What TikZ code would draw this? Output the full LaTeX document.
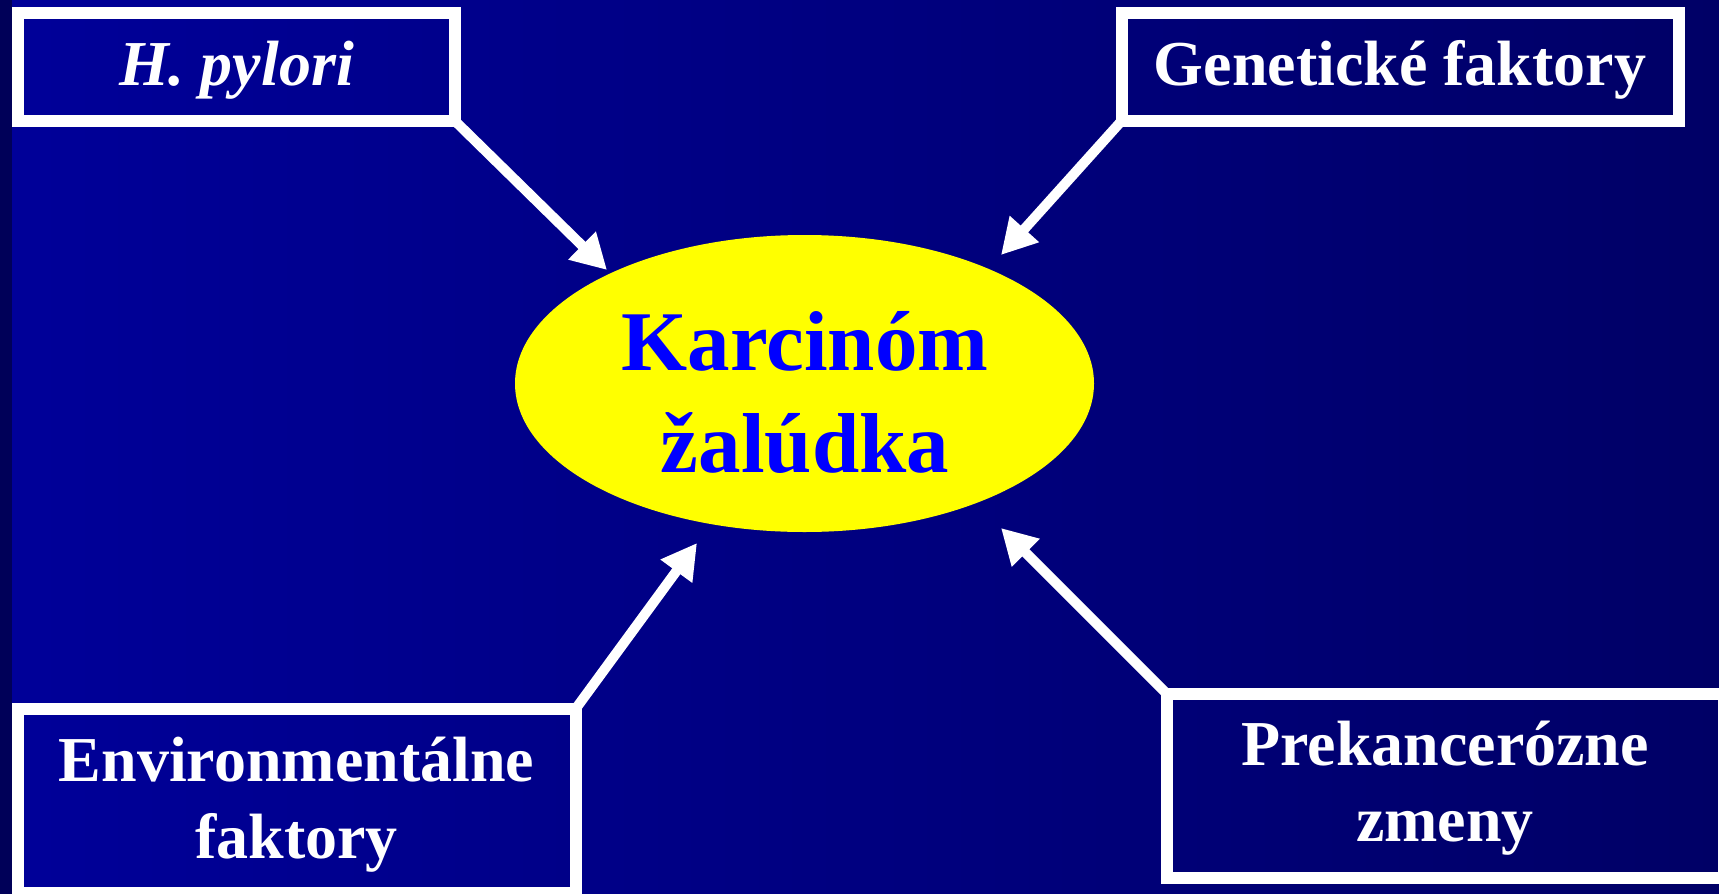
\documentclass[tikz,border=0pt]{standalone}
\usepackage{fontspec}
\setmainfont{Liberation Serif}
\usetikzlibrary{arrows.meta,shapes.geometric}
\definecolor{bgl}{RGB}{0,0,153}
\definecolor{bgr}{RGB}{0,0,102}
\definecolor{stripc}{RGB}{0,0,88}
\definecolor{ktext}{RGB}{0,0,255}
\definecolor{kfill}{RGB}{255,255,0}
\begin{document}
\begin{tikzpicture}[x=1pt,y=-1pt,
  box/.style={draw=white, line width=12pt, rectangle, outer sep=0pt, inner sep=0pt},
  lbl/.style={text=white, font=\fontsize{64}{77}\selectfont\bfseries, anchor=base, inner sep=0pt},
  ktxt/.style={text=ktext, font=\fontsize{85}{102}\selectfont\bfseries, anchor=base, inner sep=0pt},
  arr/.style={draw=white, line width=10pt, -{Triangle[length=35pt,width=37pt]}}]
\useasboundingbox (0,0) rectangle (1719,894);
\clip (0,0) rectangle (1719,894);
\shade[left color=bgl, right color=bgr] (0,0) rectangle (1719,894);
\fill[stripc] (0,0) rectangle (12,894);
% boxes
\node[box, minimum width=437pt, minimum height=108pt] (hp) at (236.5,67) {};
\node[box, minimum width=557pt, minimum height=108pt] (gen) at (1400,67) {};
\node[box, minimum width=557.5pt, minimum height=184pt] (env) at (296.75,801) {};
\node[box, minimum width=557pt, minimum height=184pt] (pre) at (1445.5,786) {};
% ellipse
\node[ellipse, fill=kfill, minimum width=579pt, minimum height=297pt, inner sep=0pt] (k) at (804.5,383.5) {};
% texts
\node[lbl, font=\fontsize{64}{77}\selectfont\bfseries\itshape] (hpt) at (236.5,85.5) {H. pylori};
\node[lbl] (gent) at (1400,85.5) {Genetické faktory};
\node[lbl] (env1) at (296.5,781.5) {Environmentálne};
\node[lbl] (env2) at (296.5,858) {faktory};
\node[lbl] (pre1) at (1445,765) {Prekancerózne};
\node[lbl] (pre2) at (1445,841.5) {zmeny};
\node[ktxt] (k1) at (805,370.7) {Karcinóm};
\node[ktxt] (k2) at (805,472.7) {žalúdka};
% arrows
\coordinate (t1) at (607,270);
\coordinate (t2) at (1001,255);
\coordinate (t3) at (697,543);
\coordinate (t4) at (1001,528);
\draw[arr] (hp.south east) -- (t1);
\draw[arr] (gen.south west) -- (t2);
\draw[arr] (env.north east) -- (t3);
\draw[arr] (pre.north west) -- (t4);
\end{tikzpicture}
\end{document}
